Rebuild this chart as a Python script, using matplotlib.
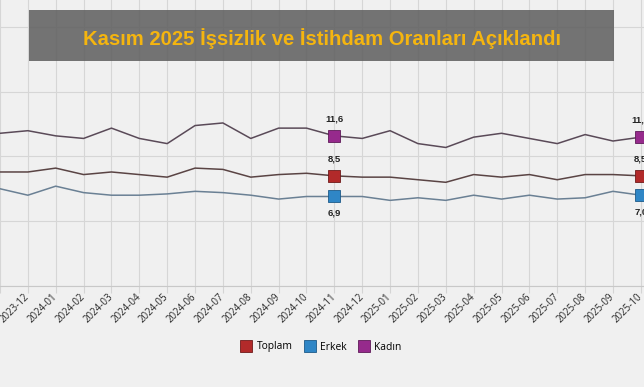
import matplotlib
matplotlib.use("Agg")
import matplotlib.pyplot as plt
from matplotlib.lines import Line2D
from matplotlib.patches import Rectangle

months = ["2023-11", "2023-12", "2024-01", "2024-02", "2024-03", "2024-04", "2024-05",
          "2024-06", "2024-07", "2024-08", "2024-09", "2024-10", "2024-11", "2024-12",
          "2025-01", "2025-02", "2025-03", "2025-04", "2025-05", "2025-06", "2025-07",
          "2025-08", "2025-09", "2025-10"]
toplam = [8.8, 8.8, 9.1, 8.6, 8.8, 8.6, 8.4, 9.1, 9.0, 8.4, 8.6, 8.7, 8.5, 8.4,
          8.4, 8.2, 8.0, 8.6, 8.4, 8.6, 8.2, 8.6, 8.6, 8.5]
erkek = [7.5, 7.0, 7.7, 7.2, 7.0, 7.0, 7.1, 7.3, 7.2, 7.0, 6.7, 6.9, 6.9, 6.9,
         6.6, 6.8, 6.6, 7.0, 6.7, 7.0, 6.7, 6.8, 7.3, 7.0]
kadin = [11.8, 12.0, 11.6, 11.4, 12.2, 11.4, 11.0, 12.4, 12.6, 11.4, 12.2, 12.2, 11.6, 11.4,
         12.0, 11.0, 10.7, 11.5, 11.8, 11.4, 11.0, 11.7, 11.2, 11.5]
series_names = ["Toplam", "Erkek", "Kadın"]
labeled_months = ["2024-11", "2025-10"]
title = "Kasım 2025 İşsizlik ve İstihdam Oranları Açıklandı"

W, H = 644, 387
fig = plt.figure(figsize=(W / 100, H / 100), dpi=100, facecolor="#f0f0f0")

bottom_px = 285.5
ax = fig.add_axes([0, (H - bottom_px) / H, 1, bottom_px / H])
ax.set_facecolor("#f0f0f0")
px_per_unit = 12.9
ax.set_ylim(0, bottom_px / px_per_unit)
step = 28.25
first_px = 19.3  # position of index 1
ax.set_xlim(1 - first_px / step, 1 + (W - first_px) / step)

x = list(range(len(months)))
ax.set_xticks(x)
ax.set_xticklabels(months, rotation=45, ha="right", va="center",
                   rotation_mode="anchor", fontsize=7, color="#2a2a2a",
                   family=["Open Sans", "DejaVu Sans"])
ax.tick_params(axis="x", length=5, color="#d4d4d4", pad=2)
ax.set_yticks([0, 5, 10, 15, 20])
ax.tick_params(axis="y", left=False, labelleft=False)
ax.grid(True, color="#d6d6d6", linewidth=0.8)
ax.set_axisbelow(True)
for s in ["top", "right", "left"]:
    ax.spines[s].set_visible(False)
ax.spines["bottom"].set_color("#c8c8c8")

colors = {"Toplam": "#b22a2a", "Erkek": "#2f86c6", "Kadın": "#962a8c"}
edges = {"Toplam": "#6e1a1a", "Erkek": "#1d5a88", "Kadın": "#5e1a58"}
linecolors = {"Toplam": "#5a4444", "Erkek": "#6a8094", "Kadın": "#5a4a58"}
data = {"Toplam": toplam, "Erkek": erkek, "Kadın": kadin}
idx = [months.index(m) for m in labeled_months]

for name in series_names:
    vals = data[name]
    ax.plot(x, vals, color=linecolors[name], linewidth=1.1, zorder=3)
    ax.plot([x[i] for i in idx], [vals[i] for i in idx], linestyle="none",
            marker="s", markersize=8, markerfacecolor=colors[name],
            markeredgecolor=edges[name], markeredgewidth=0.6, zorder=4)
    for i in idx:
        off = -12 if name == "Erkek" else 12
        ax.annotate(f"{vals[i]:.1f}".replace(".", ","), (x[i], vals[i]),
                    xytext=(0, off), textcoords="offset points",
                    ha="center", va="center", fontsize=6.8, fontweight="bold",
                    color="#222222", zorder=5,
                    family=["Liberation Sans", "DejaVu Sans"])

handles = [Line2D([], [], linestyle="none", marker="s", markersize=8.5,
                  markerfacecolor=colors[n], markeredgecolor=edges[n],
                  markeredgewidth=0.6) for n in series_names]
fig.legend(handles, series_names, loc="center", bbox_to_anchor=(321 / W, 1 - 347 / H),
           ncol=3, frameon=False, handletextpad=0.45, columnspacing=1.0,
           handlelength=1.2,
           prop={"family": ["Open Sans", "DejaVu Sans"], "size": 7.4})

fig.patches.append(Rectangle((29 / W, 1 - 61 / H), (614 - 29) / W, 51 / H,
                             transform=fig.transFigure, facecolor="#5e5e5e",
                             alpha=0.86, edgecolor="none", zorder=10))
fig.text(322 / W, 1 - 39 / H, title, ha="center", va="center", fontsize=14.6,
         fontweight="bold", color="#f5b50f",
         family=["Liberation Sans", "DejaVu Sans"], zorder=11)

fig.savefig("out.png", dpi=100, facecolor=fig.get_facecolor())
